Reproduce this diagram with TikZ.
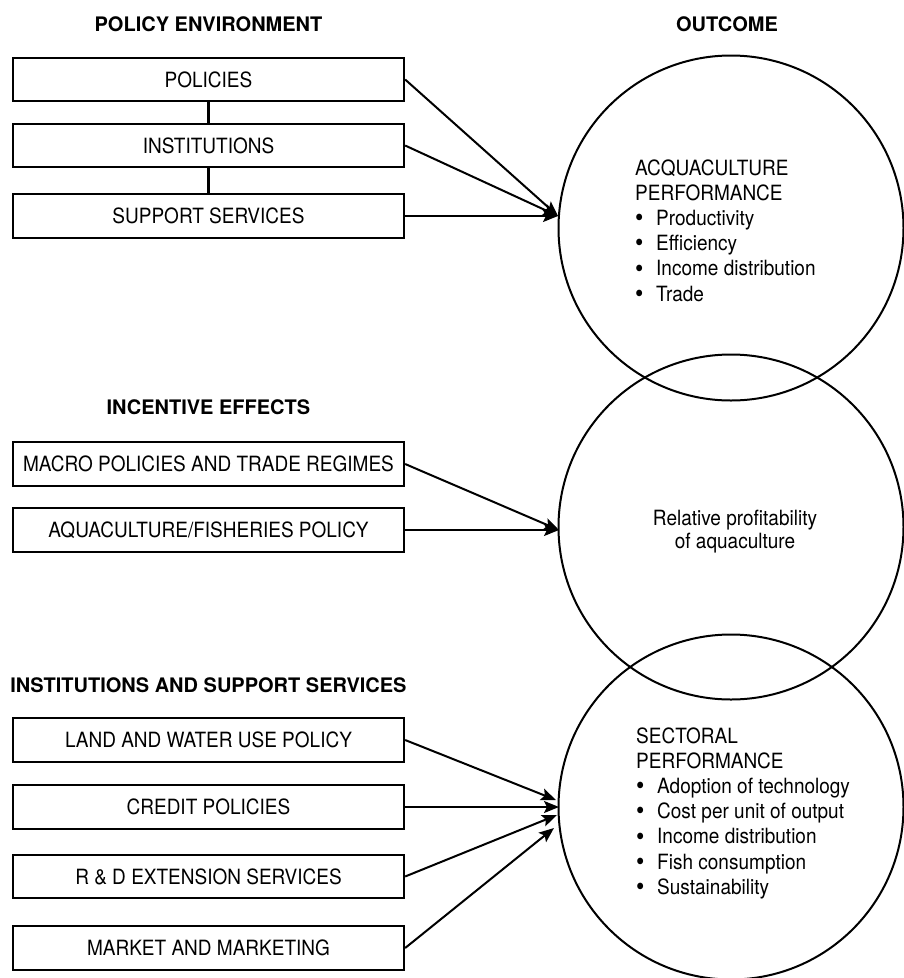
\documentclass[tikz,border=0pt]{standalone}
\usepackage{fontspec}
\setmainfont{TeX Gyre Heros}
\newfontfamily\condf{TeX Gyre Heros}[FakeStretch=0.905]
\usetikzlibrary{arrows.meta}
\newcommand\mybul{\makebox[21pt][l]{\raisebox{-1.2pt}{\scalebox{1.25}{\textbullet}}}}
\tikzset{
 boxn/.style={draw, line width=2.3pt, minimum width=391pt, minimum height=43.5pt, inner sep=0pt,
   font=\condf\fontsize{21}{25}\selectfont, text height=15.3pt, text depth=0pt},
 ttl/.style={font=\bfseries\fontsize{20}{24}\selectfont, inner sep=0pt, anchor=base},
 circ/.style={draw, circle, line width=2pt, minimum size=345pt, inner sep=0pt},
 arr/.style={line width=2pt, -{Stealth[length=15pt,width=12pt,inset=3pt]}},
 link/.style={line width=2.2pt},
 ctext/.style={inner sep=0pt, anchor=base west, font=\condf\fontsize{21}{25.2}\selectfont},
 mtext/.style={inner sep=0pt, anchor=base, font=\condf\fontsize{21}{23.5}\selectfont},
}
\begin{document}
\begin{tikzpicture}[x=1pt,y=-1pt]
\useasboundingbox (0,0) rectangle (903,978);

% titles
\node[ttl] (tpe) at (208.5,31) {POLICY ENVIRONMENT};
\node[ttl] (tout) at (727,31) {OUTCOME};
\node[ttl] (tinc) at (208.5,414) {INCENTIVE EFFECTS};
\node[ttl] (tins) at (208.5,692) {INSTITUTIONS AND SUPPORT SERVICES};

% circles
\node[circ] (c1) at (731,228) {};
\node[circ] (c2) at (731,527) {};
\node[circ] (c3) at (731,807) {};

% circle texts
\node[ctext] (perf) at (635,175) {\begin{tabular}[t]{@{}l@{}}ACQUACULTURE\\PERFORMANCE\\\mybul Productivity\\\mybul Efficiency\\\mybul Income distribution\\\mybul Trade\end{tabular}};
\node[mtext] (rel) at (735,525) {\begin{tabular}[t]{@{}c@{}}Relative profitability\\of aquaculture\end{tabular}};
\node[ctext] (sect) at (636,743) {\begin{tabular}[t]{@{}l@{}}SECTORAL\\PERFORMANCE\\\mybul Adoption of technology\\\mybul Cost per unit of output\\\mybul Income distribution\\\mybul Fish consumption\\\mybul Sustainability\end{tabular}};

% boxes: policy environment
\node[boxn] (pol) at (208.5,79.5) {POLICIES};
\node[boxn] (inst) at (208.5,145.5) {INSTITUTIONS};
\node[boxn] (supp) at (208.5,216) {SUPPORT SERVICES};
% incentive effects
\node[boxn] (macro) at (208.5,464) {MACRO POLICIES AND TRADE REGIMES};
\node[boxn] (aqua) at (208.5,530) {AQUACULTURE/FISHERIES POLICY};
% institutions and support services
\node[boxn] (land) at (208.5,740) {LAND AND WATER USE POLICY};
\node[boxn] (cred) at (208.5,807) {CREDIT POLICIES};
\node[boxn] (rd) at (208.5,876.5) {R \& D EXTENSION SERVICES};
\node[boxn] (mkt) at (208.5,948) {MARKET AND MARKETING};

% links between top boxes
\draw[link] (pol.south) -- (inst.north);
\draw[link] (inst.south) -- (supp.north);

% arrow targets
\coordinate (t1) at (558,216);
\coordinate (t2) at (559,530);
\coordinate (t3a) at (556,800);
\coordinate (t3b) at (559,807);
\coordinate (t3c) at (557,815);
\coordinate (t3d) at (554,828);

\draw[arr] (pol.east) -- (t1);
\draw[arr] (inst.east) -- (t1);
\draw[arr] (supp.east) -- (t1);
\draw[arr] (macro.east) -- (t2);
\draw[arr] (aqua.east) -- (t2);
\draw[arr] (land.east) -- (t3a);
\draw[arr] (cred.east) -- (t3b);
\draw[arr] (rd.east) -- (t3c);
\draw[arr] (mkt.east) -- (t3d);
\end{tikzpicture}
\end{document}
